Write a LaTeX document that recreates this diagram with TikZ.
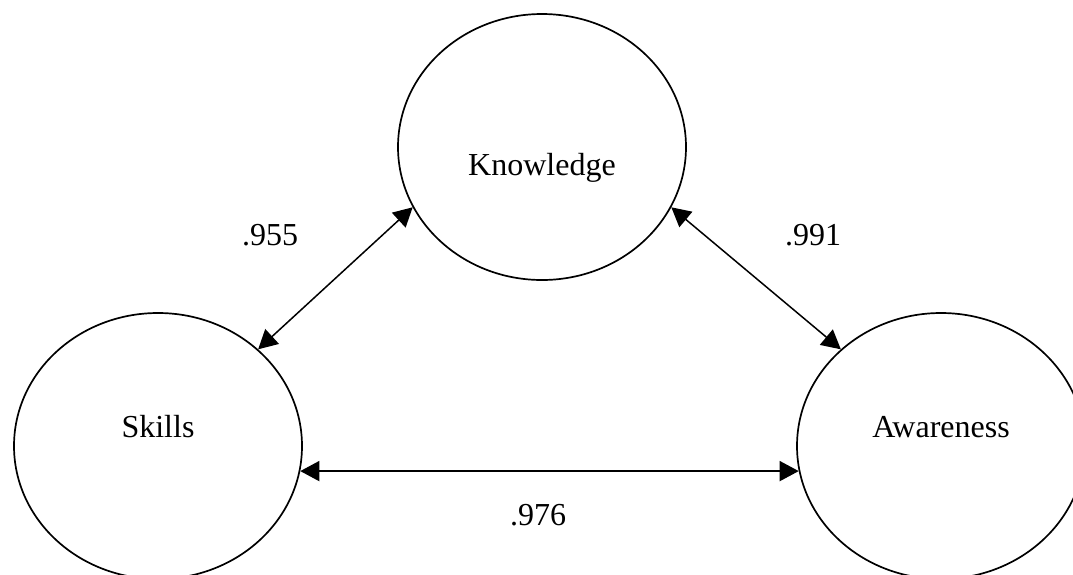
\documentclass[tikz,border=0pt]{standalone}
\usepackage{fontspec}
\setmainfont{Liberation Serif}
\usetikzlibrary{shapes.geometric,arrows.meta}

\begin{document}
\begin{tikzpicture}[
  x=1pt, y=-1pt,
  line width=1.5pt,
  every node/.style={font=\fontsize{32}{38}\selectfont},
  factor/.style={draw, ellipse, inner sep=0pt, minimum width=288pt, minimum height=266pt, line width=1.7pt},
  corr/.style={<->, >={Triangle[length=19pt,width=20pt]}}
]
\useasboundingbox (0,0) rectangle (1073,574);
\node[factor, text height=56pt, text depth=0pt] (know) at (542,147) {Knowledge};
\node[factor, text height=10pt, text depth=28pt] (skills) at (158,446) {Skills};
\node[factor, text height=10pt, text depth=28pt] (aware) at (941,446) {Awareness};
\draw[corr] (know.205) -- (skills.44);
\draw[corr] (know.335) -- (aware.136);
\draw[corr] (skills.-10.4) -- (aware.190.4);
\node[anchor=base] (r1) at (270,245) {.955};
\node[anchor=base] (r2) at (813,245) {.991};
\node[anchor=base] (r3) at (538,525) {.976};
\end{tikzpicture}
\end{document}
